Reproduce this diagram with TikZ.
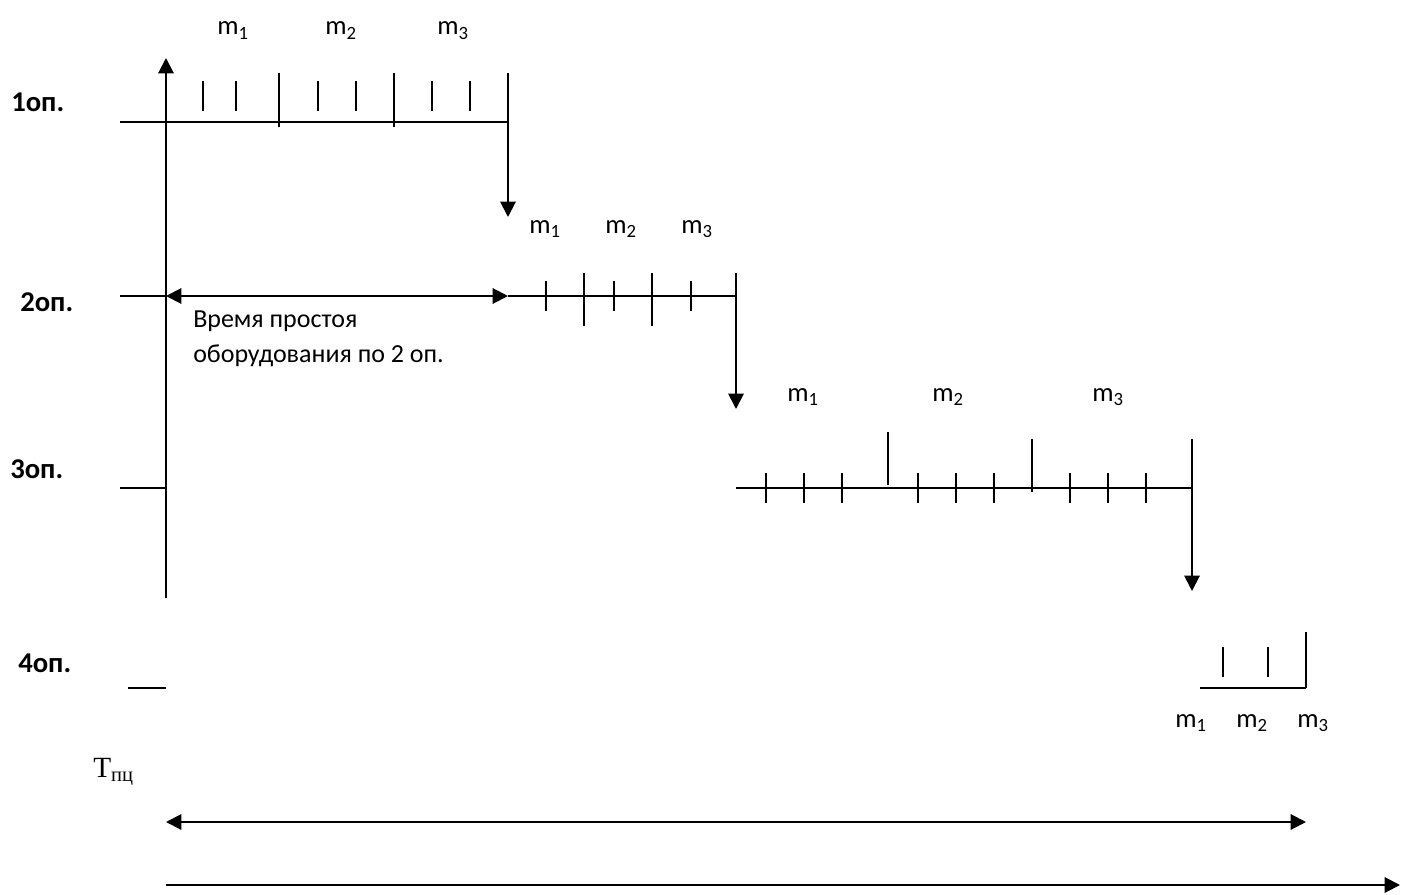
\documentclass[tikz,border=0pt]{standalone}
\usepackage{fontspec}
\setmainfont{Carlito}
\newfontfamily\serifT{Liberation Serif}
\usetikzlibrary{arrows.meta, positioning}

\begin{document}
\begin{tikzpicture}[
        x=0.75pt, y=-0.75pt,
        line/.style={line width=1.5pt},
        flow/.style={line width=1.5pt, -{Triangle[length=11.5pt, width=11.5pt]}},
        span/.style={line width=1.5pt, {Triangle[length=11.5pt, width=11.5pt]}-{Triangle[length=11.5pt, width=11.5pt]}},
        oplabel/.style={anchor=base west, inner sep=0pt, font=\fontsize{21.5}{24}\selectfont\bfseries},
        part/.style={anchor=base west, inner sep=0pt, font=\fontsize{20}{24}\selectfont},
        note/.style={anchor=base west, inner sep=0pt, font=\fontsize{19.5}{26.25}\selectfont, align=left}
    ]
        \useasboundingbox (0,0) rectangle (1405,895);

        % operation rows
        \node[oplabel] (op1) at (11,112) {1оп.};
        \node[oplabel] (op2) at (20,311) {2оп.};
        \node[oplabel] (op3) at (10,478) {3оп.};
        \node[oplabel] (op4) at (18,672) {4оп.};

        \coordinate (a0) at (166,598);
        \coordinate (a1) at (166,58);
        \coordinate (r1) at (120,122);
        \coordinate (r2) at (120,296);
        \coordinate (r3) at (120,488);
        \coordinate (r4) at (128,688);
        \coordinate (z2) at (166,296);
        \coordinate (z3) at (166,488);
        \coordinate (z4) at (166,688);
        \coordinate (e1) at (508,122);
        \coordinate (s2) at (508,296);
        \coordinate (e2) at (736,296);
        \coordinate (s3) at (736,488);
        \coordinate (e3) at (1192,488);
        \coordinate (s4) at (1200,688);
        \coordinate (e4) at (1306,688);

        \draw[flow] (a0) -- (a1);
        \draw[line] (r1) -- (e1);
        \draw[line] (r2) -- (z2);
        \draw[span] (z2) -- (s2);
        \draw[line] (s2) -- (e2);
        \draw[line] (r3) -- (z3);
        \draw[line] (s3) -- (e3);
        \draw[line] (r4) -- (z4);
        \draw[line] (s4) -- (e4);

        % transfer of the batch to the next operation
        \coordinate (k1) at (508,73);   \coordinate (d1) at (508,217);
        \coordinate (k2) at (736,273);  \coordinate (d2) at (736,409);
        \coordinate (k3) at (1192,439); \coordinate (d3) at (1192,591);
        \coordinate (k4) at (1306,632);
        \draw[flow] (k1) -- (d1);
        \draw[flow] (k2) -- (d2);
        \draw[flow] (k3) -- (d3);
        \draw[line] (k4) -- (e4);

        % ticks for each part
        \foreach \x in {203,236,318,356,432,470} \draw[line] (\x,81) -- (\x,111);
        \foreach \x in {279,394} \draw[line] (\x,73) -- (\x,127);
        \foreach \x in {546,614,691} \draw[line] (\x,281) -- (\x,311);
        \foreach \x in {584,652} \draw[line] (\x,273) -- (\x,326);
        \foreach \x in {766,804,842,918,956,994,1070,1108,1146} \draw[line] (\x,473) -- (\x,503);
        \draw[line] (888,432) -- (888,485);
        \draw[line] (1032,439) -- (1032,492);
        \foreach \x in {1223,1268} \draw[line] (\x,647) -- (\x,677);

        % part labels
        \foreach \x/\i in {217/1,325/2,437/3} \node[part] (m1\i) at (\x,35) {m\textsubscript{\i}};
        \foreach \x/\i in {529/1,605/2,681/3} \node[part] (m2\i) at (\x,233) {m\textsubscript{\i}};
        \foreach \x/\i in {787/1,932/2,1092/3} \node[part] (m3\i) at (\x,401) {m\textsubscript{\i}};
        \foreach \x/\i in {1175/1,1236/2,1297/3} \node[part] (m4\i) at (\x,727) {m\textsubscript{\i}};

        \node[note] (idle) at (193,362) {Время простоя\\оборудования по 2 оп.};

        % cycle length
        \node[anchor=base west, inner sep=0pt, font=\serifT\fontsize{22}{26}\selectfont] (tpc) at (93,777) {Т\textsubscript{пц}};
        \coordinate (c0) at (166,822);
        \coordinate (c1) at (1306,822);
        \coordinate (t0) at (166,885);
        \coordinate (t1) at (1400,885);
        \draw[span] (c0) -- (c1);
        \draw[flow] (t0) -- (t1);
    \end{tikzpicture}
\end{document}
